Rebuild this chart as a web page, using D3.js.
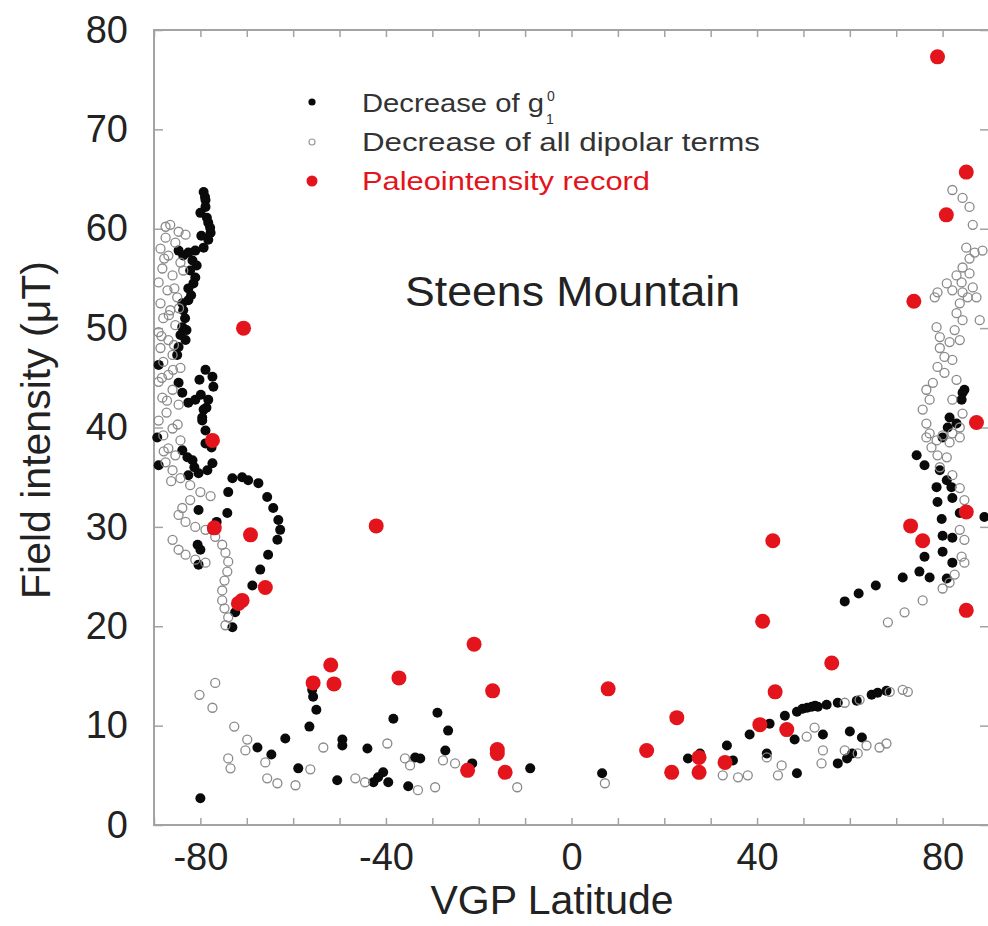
<!DOCTYPE html>
<html>
<head>
<meta charset="utf-8">
<script src="https://cdn.jsdelivr.net/npm/d3@7"></script>
<style>
  html, body { margin: 0; padding: 0; background: #fff; }
  svg { display: block; }
  text { font-family: "Liberation Sans", Arial, Helvetica, sans-serif; }
</style>
</head>
<body>
<svg id="chart" width="988" height="926"></svg>
<script>
// ---------- data ----------
const xTicks = [-90, -80, -70, -60, -50, -40, -30, -20, -10, 0, 10, 20, 30, 40, 50, 60, 70, 80, 90];
const xTickLabels = [-80, -40, 0, 40, 80];
const yTicks = [0, 10, 20, 30, 40, 50, 60, 70, 80];

const seriesNames = ["Decrease of g", "Decrease of all dipolar terms", "Paleointensity record"];

// Decrease of g1^0 (filled black) [VGP latitude, intensity µT]
const g10Lat = [
 -79.3,-78.9,-78.9,-80.0,-78.3,-77.8,-78.3,-79.3,-81.1,-82.6,-83.7,-84.7,-81.7,-82.2,-81.1,-81.5,-82.6,-82.6,-83.9,-83.7,
 -83.0,-83.2,-83.9,-84.7,-85.0,-89.0,-78.9,-77.4,-77.2,-78.3,-79.3,-79.6,-84.7,-83.9,-82.6,-81.1,-89.3,-89.0,
 -79.6,-78.9,-78.9,-83.9,-82.8,-81.7,-77.4,-78.5,-80.4,-82.6,-73.1,-71.0,-69.7,-67.5,-74.0,-65.6,-64.3,-63.2,-62.8,-63.4,
 -65.4,-67.1,-68.8,-74.2,-80.4,-77.4,-80.6,-80.0,-80.4,-72.5,-73.1,
 -79.0,-78.6,-77.9,-79.8,-80.8,-82.0,-83.3,-84.3,-80.2,-79.9,-78.7,-77.6,-81.3,-76.5,
 -80.0,-67.7,-64.7,-61.7,-58.9,-56.5,-55.0,-55.7,-55.9,
 -50.5,-49.4,-49.4,-44.0,-40.6,-41.7,-42.7,-39.5,-38.4,-35.2,-33.7,-32.6,-28.9,-26.6,-27.2,-21.4,-8.9,6.6,
 25.1,27.7,33.5,34.8,38.4,40.6,42.1,42.7,46.0,48.6,48.1,48.6,49.8,50.8,51.8,52.5,53.1,54.2,55.0,57.4,57.4,59.4,60.0,60.5,61.5,62.6,64.7,66.0,67.9,
 74.4,76.1,78.7,81.9,78.9,82.1,79.8,83.7,89.0,80.0,82.1,80.0,76.1,82.1,75.0,77.2,71.4,65.6,61.9,58.9,80.9,
 84.3,84.1,84.7,81.5,83.0,81.1,80.0,79.4,80.9
];
const g10Int = [
 63.7,62.9,62.2,61.6,60.6,59.6,58.9,58.1,57.8,57.6,57.3,57.8,56.8,55.8,55.1,54.5,54.0,52.8,52.5,51.8,
 49.8,48.8,50.1,48.1,47.3,46.3,45.8,45.1,44.1,42.8,41.8,41.0,44.5,43.5,42.5,42.8,39.0,36.2,
 40.7,39.7,38.4,37.7,37.0,36.7,36.4,35.7,35.4,35.2,34.9,35.0,34.7,34.4,33.5,33.0,31.9,30.7,29.7,28.7,
 27.2,25.7,24.1,31.4,31.7,29.7,28.2,27.7,26.2,21.4,19.9,
 63.2,61.1,60.1,59.3,56.3,53.3,51.0,49.3,44.8,43.3,42.0,38.0,36.0,30.5,
 2.7,7.8,7.1,8.7,5.7,9.9,11.6,12.9,13.6,
 4.5,8.6,8.0,7.7,5.3,4.8,4.3,4.3,10.7,3.9,6.8,6.7,11.3,9.5,7.5,6.2,5.7,5.2,
 6.7,7.2,8.0,6.5,9.1,10.0,7.2,10.2,11.0,11.4,8.6,5.2,11.7,11.8,11.9,12.0,11.9,9.1,12.1,12.3,6.2,6.7,9.4,7.2,12.5,8.8,13.1,13.3,13.5,
 37.2,36.2,34.0,34.0,32.5,32.9,30.8,31.4,31.0,29.1,28.9,27.5,27.0,26.4,25.5,24.9,24.9,24.1,23.3,22.5,24.8,
 43.5,42.8,43.8,41.0,40.4,40.0,39.0,35.7,34.7
];

// Decrease of all dipolar terms (open circles)
const dipLat = [
 -86.5,-84.7,-87.5,-85.4,-88.6,-86.9,-84.3,-88.2,-86.0,-89.0,-87.1,-85.0,-88.6,-86.5,-88.0,-85.4,-89.0,-86.9,-88.6,-86.0,
 -88.0,-84.3,-86.9,-89.0,-86.0,-88.2,-84.7,-87.3,-89.0,-86.0,-88.0,-84.3,-86.9,-85.4,-87.5,-86.0,-84.3,-82.2,-80.0,-77.8,
 -82.2,-83.9,-84.7,-83.2,-81.1,-78.9,-86.0,-84.7,-83.2,-81.1,-78.9,-76.8,-75.3,-74.6,-74.0,-74.2,-74.8,-75.3,-75.3,-74.8,
 -74.0,-74.6,-83.2,-83.7,-87.5,
 -87.8,-85.6,-86.8,-88.4,-85.9,-87.2,-84.9,-87.9,-86.3,-84.6,-88.3,-85.7,
 -80.2,-76.8,-77.4,-72.7,-69.9,-70.3,-74.0,-73.5,-66.0,-65.6,-63.4,-59.5,-56.3,-53.5,
 -39.7,-46.6,-44.5,-35.9,-34.8,-33.1,-29.4,-27.7,-25.1,-11.7,7.2,
 21.2,32.6,35.9,38.0,42.1,44.5,45.3,50.7,52.4,53.9,54.2,58.9,61.7,63.6,66.4,67.9,58.9,62.1,68.6,71.4,72.5,
 82.1,84.3,85.8,86.5,85.1,86.9,85.8,84.3,85.8,83.0,84.1,86.5,80.9,78.9,78.3,82.1,84.3,85.4,87.3,83.7,
 83.0,84.3,82.6,78.7,79.4,81.5,83.7,79.4,80.4,82.1,78.9,80.4,77.9,76.5,77.2,75.7,76.5,77.2,83.0,82.1,
 84.3,83.7,82.1,88.6,88.0,
 76.5,78.7,77.6,80.0,81.5,83.7,78.9,80.9,79.4,82.1,83.7,84.7,83.7,84.7,84.1,84.7,82.6,81.5,80.0,75.7,71.8,68.2
];
const dipInt = [
 60.4,59.7,59.1,58.6,58.0,57.3,56.6,56.0,55.3,54.6,53.8,53.1,52.5,51.8,51.0,50.3,49.6,48.8,48.0,47.3,
 46.6,46.0,45.3,44.6,43.8,43.0,42.3,41.5,40.7,39.9,39.2,38.7,37.9,37.2,36.5,35.7,34.9,34.2,33.5,33.1,
 32.7,31.9,31.2,30.5,30.0,29.7,28.7,27.7,27.2,26.7,26.4,29.0,28.2,27.4,26.5,25.5,24.6,23.6,22.6,21.8,
 20.9,20.1,59.4,55.8,60.2,
 57.0,54.0,51.3,49.2,45.8,42.7,40.3,37.6,34.6,52.0,45.0,48.3,
 13.1,14.3,11.8,9.9,8.6,7.5,6.7,5.7,6.3,4.7,4.2,4.0,5.6,7.8,
 8.2,4.7,4.3,6.7,6.0,3.5,3.8,6.5,6.2,3.8,4.2,
 5.2,5.0,4.8,5.0,6.8,5.0,6.0,8.9,9.8,6.2,7.5,7.5,7.2,8.0,7.8,8.2,12.3,12.6,13.4,13.6,13.4,
 63.9,63.1,62.2,60.4,58.1,57.6,57.0,56.1,55.5,55.3,54.6,54.1,54.5,53.6,53.1,53.8,53.6,53.1,53.1,52.5,
 51.5,50.8,49.8,50.1,49.1,48.6,48.8,48.0,47.1,46.8,46.1,45.5,44.5,43.8,42.8,41.8,40.4,39.4,44.8,42.8,
 41.4,40.0,39.4,57.8,50.8,
 39.0,38.7,38.0,39.2,38.5,39.0,37.2,37.0,36.0,35.2,33.9,32.7,29.7,28.7,27.0,26.4,25.2,24.4,23.8,22.6,21.4,20.4
];

// Paleointensity record (red)
const paleoLat = [
 -70.7,-77.4,-77.0,-69.2,-66.0,-71.8,-71.0,-42.1,-55.7,-51.9,-51.2,-37.2,-21.0,-17.0,-16.0,-16.0,-14.3,-22.4,
 7.9,16.2,22.7,21.6,27.5,27.5,33.1,40.6,43.9,46.4,56.1,41.2,43.4,
 73.8,78.9,85.1,80.8,87.3,73.1,75.7,85.1,85.1
];
const paleoInt = [
 50.0,38.7,29.9,29.2,23.9,22.3,22.6,30.1,14.3,16.1,14.2,14.8,18.2,13.5,7.6,7.2,5.3,5.5,
 13.7,7.5,10.8,5.3,5.3,6.8,6.3,10.1,13.4,9.6,16.3,20.5,28.6,
 52.7,77.3,65.7,61.4,40.5,30.1,28.6,31.5,21.6
];

// ---------- chart ----------
const svg = d3.select("#chart");
const x = d3.scaleLinear().domain([-90, 90]).range([154, 989]);
const y = d3.scaleLinear().domain([0, 80]).range([825, 30]);
const frameCol = "#a3a3a3";
const textCol = "#222";

const g10 = g10Lat.map((d, i) => ({lat: d, v: g10Int[i]}));
const dip = dipLat.map((d, i) => ({lat: d, v: dipInt[i]}));
const paleo = paleoLat.map((d, i) => ({lat: d, v: paleoInt[i]}));

// ticks (inward) via d3 axes
const fmtX = d => xTickLabels.includes(d) ? String(d) : "";
const axB = svg.append("g").attr("transform", `translate(0,${y(0)})`)
  .call(d3.axisBottom(x).tickValues(xTicks).tickSize(-7).tickPadding(18).tickFormat(fmtX));
const axT = svg.append("g").attr("transform", `translate(0,${y(80)})`)
  .call(d3.axisTop(x).tickValues(xTicks).tickSize(-7).tickFormat(""));
const axL = svg.append("g").attr("transform", `translate(${x(-90)},0)`)
  .call(d3.axisLeft(y).tickValues(yTicks).tickSize(-9).tickPadding(26).tickFormat(d3.format("d")));
const axR = svg.append("g").attr("transform", `translate(${x(90)},0)`)
  .call(d3.axisRight(y).tickValues(yTicks).tickSize(-9).tickFormat(""));

[axB, axT, axL, axR].forEach(a => {
  a.select(".domain").remove();
  a.selectAll(".tick line").attr("stroke", frameCol).attr("stroke-width", 1.5);
  a.selectAll(".tick text").attr("fill", textCol).style("font-size", "38px")
   .style("font-family", '"Liberation Sans", Arial, sans-serif');
});
axB.selectAll(".tick text").attr("dy", "0.71em");

// frame
svg.append("rect")
  .attr("x", x(-90)).attr("y", y(80))
  .attr("width", x(90) - x(-90)).attr("height", y(0) - y(80))
  .attr("fill", "none").attr("stroke", frameCol).attr("stroke-width", 2);

// points
svg.append("g").selectAll("circle").data(g10).join("circle")
  .attr("cx", d => x(d.lat)).attr("cy", d => y(d.v)).attr("r", 5)
  .attr("fill", "#0a0a0a");

svg.append("g").selectAll("circle").data(dip).join("circle")
  .attr("cx", d => x(d.lat)).attr("cy", d => y(d.v)).attr("r", 4.5)
  .attr("fill", "none").attr("stroke", "#8a8a8a").attr("stroke-width", 1.3);

svg.append("g").selectAll("circle").data(paleo).join("circle")
  .attr("cx", d => x(d.lat)).attr("cy", d => y(d.v)).attr("r", 7.5)
  .attr("fill", "#e3141b");

// legend
const lg = svg.append("g");
const rows = [
  {y: 102, ty: 112, kind: "black"},
  {y: 142, ty: 151, kind: "open"},
  {y: 181, ty: 190, kind: "red"}
];
lg.append("circle").attr("cx", 312).attr("cy", rows[0].y).attr("r", 3.6).attr("fill", "#0a0a0a");
lg.append("circle").attr("cx", 312).attr("cy", rows[1].y).attr("r", 3).attr("fill", "none")
  .attr("stroke", "#999").attr("stroke-width", 1.2);
lg.append("circle").attr("cx", 312).attr("cy", rows[2].y).attr("r", 5.5).attr("fill", "#e3141b");

lg.append("text").attr("x", 362).attr("y", rows[0].ty).attr("fill", "#333")
  .style("font-size", "26px").attr("textLength", 182).attr("lengthAdjust", "spacingAndGlyphs")
  .text(seriesNames[0]);
lg.append("text").attr("x", 547).attr("y", 101).attr("fill", "#333").style("font-size", "14px").text("0");
lg.append("text").attr("x", 546).attr("y", 124).attr("fill", "#333").style("font-size", "14px").text("1");
lg.append("text").attr("x", 362).attr("y", rows[1].ty).attr("fill", "#333")
  .style("font-size", "26px").attr("textLength", 398).attr("lengthAdjust", "spacingAndGlyphs")
  .text(seriesNames[1]);
lg.append("text").attr("x", 362).attr("y", rows[2].ty).attr("fill", "#e3141b")
  .style("font-size", "26px").attr("textLength", 288).attr("lengthAdjust", "spacingAndGlyphs")
  .text(seriesNames[2]);

// title inside plot
svg.append("text").attr("x", 405).attr("y", 306).attr("fill", textCol)
  .style("font-size", "42px").attr("textLength", 335).attr("lengthAdjust", "spacingAndGlyphs")
  .text("Steens Mountain");

// axis titles
svg.append("text").attr("x", 552).attr("y", 914).attr("text-anchor", "middle").attr("fill", textCol)
  .style("font-size", "41px").text("VGP Latitude");
svg.append("text").attr("transform", "translate(50,430) rotate(-90)").attr("text-anchor", "middle")
  .attr("fill", textCol).style("font-size", "41px").text("Field intensity (\u03BCT)");
</script>
</body>
</html>
